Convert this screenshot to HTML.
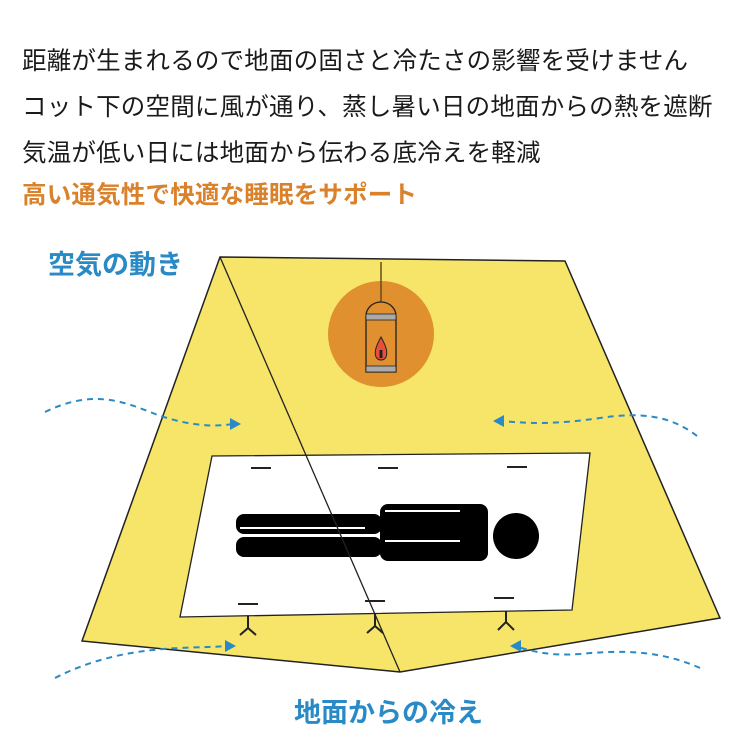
<!DOCTYPE html>
<html><head><meta charset="utf-8"><style>
body{margin:0;width:750px;height:750px;background:#fff;overflow:hidden;position:relative;font-family:"Liberation Sans","Noto Sans CJK JP",sans-serif}
.t{position:absolute;left:22px;font-size:24.5px;color:#1a1a1a;white-space:nowrap;line-height:30px;letter-spacing:0.2px}
</style></head><body>
<div class="t" style="top:47px">距離が生まれるので地面の固さと冷たさの影響を受けません</div>
<div class="t" style="top:93px">コット下の空間に風が通り、蒸し暑い日の地面からの熱を遮断</div>
<div class="t" style="top:139px">気温が低い日には地面から伝わる底冷えを軽減</div>
<div class="t" style="top:181px;color:#d9822b;font-weight:bold">高い通気性で快適な睡眠をサポート</div>
<svg width="750" height="750" style="position:absolute;left:0;top:0">
<polygon points="220,257 565,261 720,618 400,672 82,641" fill="#f7e56a" stroke="#222" stroke-width="1.5"/>
<circle cx="381" cy="334" r="53" fill="#e0902e"/>
<line x1="381" y1="262" x2="381" y2="302" stroke="#6b4a1a" stroke-width="1.5"/>
<path d="M366,316 A15,14 0 0 1 396,316 V372 H366 Z" fill="#e0902e" stroke="#222" stroke-width="1.3"/>
<rect x="366" y="314" width="30" height="6" fill="#aaa" stroke="#222" stroke-width="0.8"/>
<rect x="366" y="366" width="30" height="6" fill="#aaa" stroke="#222" stroke-width="0.8"/>
<path d="M381,337 C376,346 374,352 376,357 C378,361 384,361 386,357 C388,352 386,346 381,337Z" fill="#e8503c" stroke="#222" stroke-width="1"/>
<rect x="379.5" y="350" width="3" height="8" fill="#222"/>
<polygon points="212,456 590,453 572,610 180,617" fill="#fff" stroke="#222" stroke-width="1.3"/>
<g stroke="#222" stroke-width="2">
<line x1="251" y1="468" x2="271" y2="468"/><line x1="378" y1="468" x2="398" y2="468"/><line x1="507" y1="467" x2="527" y2="467"/>
<line x1="238" y1="604" x2="258" y2="604"/><line x1="365" y1="601" x2="385" y2="601"/><line x1="494" y1="598" x2="514" y2="598"/>
<path d="M248,616 V628 L240,635 M248,628 L256,635" fill="none"/>
<path d="M375,614 V626 L367,633 M375,626 L383,633" fill="none"/>
<path d="M506,611 V622 L498,630 M506,622 L514,630" fill="none"/>
</g>
<g fill="#000">
<rect x="236" y="514" width="146" height="20" rx="8"/>
<rect x="236" y="537" width="146" height="20" rx="8"/>
<rect x="380" y="504" width="108" height="57" rx="8"/>
<circle cx="516" cy="536" r="23"/>
</g>
<line x1="240" y1="528" x2="365" y2="528" stroke="#fff" stroke-width="2"/>
<line x1="385" y1="511" x2="460" y2="511" stroke="#fff" stroke-width="2"/>
<line x1="385" y1="541" x2="460" y2="541" stroke="#fff" stroke-width="2"/>
<line x1="220" y1="257" x2="400" y2="672" stroke="#222" stroke-width="1.3"/>
<g fill="none" stroke="#2a8ac6" stroke-width="2" stroke-dasharray="6,5">
<path d="M45,412 C90,390 120,400 150,412 C180,424 210,428 232,424"/>
<path d="M697,436 C670,415 640,412 600,418 C560,424 530,424 503,421"/>
<path d="M55,678 C90,660 130,650 180,648 C200,647 215,647 228,646"/>
<path d="M700,668 C660,650 620,650 580,654 C550,656 535,652 518,647"/>
</g>
<g fill="#2a8ac6">
<polygon points="241,424 230,418 230,430"/>
<polygon points="493,421 504,415 504,427"/>
<polygon points="236,646 225,640 225,652"/>
<polygon points="510,646 521,640 521,652"/>
</g>
<text x="48" y="274" font-size="27" font-weight="bold" fill="#2a8ac6" font-family="Liberation Sans,Noto Sans CJK JP,sans-serif">空気の動き</text>
<text x="294" y="722" font-size="27" font-weight="bold" fill="#2a8ac6" font-family="Liberation Sans,Noto Sans CJK JP,sans-serif">地面からの冷え</text>
</svg>
</body></html>
